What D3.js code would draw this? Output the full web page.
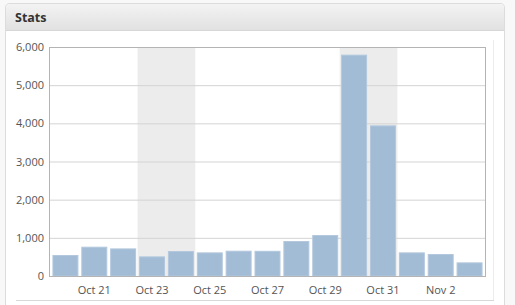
<!DOCTYPE html>
<html>
<head>
<meta charset="utf-8">
<script src="https://cdn.jsdelivr.net/npm/d3@7"></script>
<style>
  body { margin: 0; background: #f8f8f8; }
  svg { display: block; font-family: "Open Sans", "DejaVu Sans", sans-serif; }
</style>
</head>
<body>
<svg id="chart" width="515" height="305"></svg>
<script>
// daily counts, Oct 20 .. Nov 3
const days = ['2010-10-20', '2010-10-21', '2010-10-22', '2010-10-23', '2010-10-24',
  '2010-10-25', '2010-10-26', '2010-10-27', '2010-10-28', '2010-10-29',
  '2010-10-30', '2010-10-31', '2010-11-01', '2010-11-02', '2010-11-03'];
const counts = [550, 768, 723, 514, 655, 619, 663, 660, 917, 1074, 5800, 3946, 619, 576, 357];
const yTicks = [0, 1000, 2000, 3000, 4000, 5000, 6000];
const tickDays = ['2010-10-21', '2010-10-23', '2010-10-25', '2010-10-27', '2010-10-29', '2010-10-31', '2010-11-02'];
// weekend shading
const weekends = [['2010-10-23', '2010-10-24'], ['2010-10-30', '2010-10-31']];

const parse = d3.timeParse('%Y-%m-%d');
const svg = d3.select('#chart');

// panel
const defs = svg.append('defs');
const grad = defs.append('linearGradient').attr('id', 'hdr')
  .attr('x1', 0).attr('y1', 0).attr('x2', 0).attr('y2', 1);
grad.append('stop').attr('offset', '0%').attr('stop-color', '#f3f3f3');
grad.append('stop').attr('offset', '100%').attr('stop-color', '#e1e1e1');

svg.append('path')
  .attr('d', 'M5.5,305 V8 Q5.5,3.5 10,3.5 H500 Q504.5,3.5 504.5,8 V305')
  .attr('fill', '#fff').attr('stroke', '#dcdcdc');
svg.append('path')
  .attr('d', 'M6,30 V8.5 Q6,4 10.5,4 H499.5 Q504,4 504,8.5 V30 Z')
  .attr('fill', 'url(#hdr)');
svg.append('line').attr('x1', 6).attr('x2', 504).attr('y1', 30.5).attr('y2', 30.5)
  .attr('stroke', '#d6d6d6');
svg.append('text').attr('x', 15).attr('y', 22)
  .attr('font-size', 12.5).attr('font-weight', 'bold').attr('fill', '#333')
  .text('Stats');

// inner frame lines
svg.append('line').attr('x1', 16).attr('x2', 494).attr('y1', 300.5).attr('y2', 300.5)
  .attr('stroke', '#d8d8d8');
svg.append('line').attr('x1', 493.5).attr('x2', 493.5).attr('y1', 40).attr('y2', 300)
  .attr('stroke', '#ececec');

const margin = { left: 49, top: 47, right: 29, bottom: 29 };
const innerW = 515 - margin.left - margin.right;
const innerH = 305 - margin.top - margin.bottom;
const g = svg.append('g').attr('transform', `translate(${margin.left}, ${margin.top})`);

const x = d3.scaleBand()
  .domain(days)
  .range([2, innerW - 2])
  .paddingInner(0.1)
  .paddingOuter(0.05);
const step = x.step();

const y = d3.scaleLinear().domain([0, 6000]).range([innerH, 0]);

// weekend bands
g.selectAll('.wk').data(weekends).enter().append('rect')
  .attr('class', 'wk')
  .attr('x', d => x(d[0]) - (step - x.bandwidth()) / 2)
  .attr('width', d => x(d[1]) - x(d[0]) + step)
  .attr('y', 0).attr('height', innerH)
  .attr('fill', '#ececec');

// grid
const yAxis = d3.axisLeft(y).tickValues(yTicks).tickSize(-innerW).tickPadding(5)
  .tickFormat(d3.format(','));
g.append('g').call(yAxis).call(a => {
  a.select('.domain').remove();
  a.selectAll('line').attr('stroke', '#d4d4d4');
  a.selectAll('text').attr('font-size', 11).attr('fill', '#545454')
    .attr('font-family', '"Open Sans", sans-serif');
});

// bars
g.selectAll('.bar').data(days).enter().append('rect')
  .attr('class', 'bar')
  .attr('x', d => x(d) + 0.5)
  .attr('width', x.bandwidth() - 1)
  .attr('y', (d, i) => y(counts[i]) + 0.5)
  .attr('height', (d, i) => innerH - y(counts[i]) - 0.5)
  .attr('fill', '#a2bcd6')
  .attr('stroke', '#b3c8dd')
  .attr('stroke-width', 1);

// border
g.append('rect').attr('x', 0.5).attr('y', 0.5)
  .attr('width', innerW - 1).attr('height', innerH)
  .attr('fill', 'none').attr('stroke', '#b4b4b4');

// x labels
const fmt = d3.timeFormat('%b %-d');
const xAxis = d3.axisBottom(x).tickValues(tickDays).tickSize(0).tickPadding(10)
  .tickFormat(d => fmt(parse(d)));
g.append('g').attr('transform', `translate(0, ${innerH})`).call(xAxis).call(a => {
  a.select('.domain').remove();
  a.selectAll('text').attr('font-size', 11).attr('fill', '#545454')
    .attr('font-family', '"Open Sans", sans-serif');
});
</script>
</body>
</html>
